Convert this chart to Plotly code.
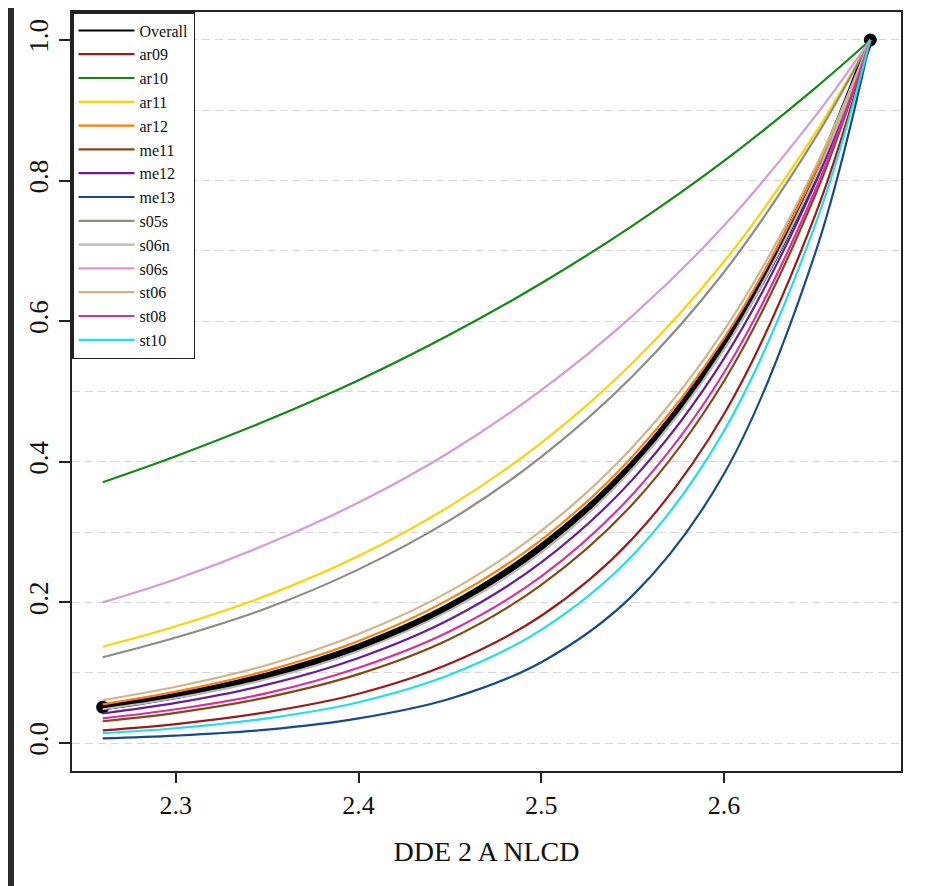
import plotly.graph_objects as go

# x positions where curves were read
x_vals = [2.26, 2.30, 2.35, 2.40, 2.45, 2.50, 2.55, 2.60, 2.65, 2.68]

overall = [0.051, 0.067, 0.096, 0.137, 0.195, 0.279, 0.397, 0.567, 0.808, 1.0]
ar09 = [0.018, 0.027, 0.044, 0.070, 0.113, 0.181, 0.291, 0.468, 0.752, 1.0]
ar10 = [0.371, 0.408, 0.459, 0.516, 0.581, 0.654, 0.736, 0.828, 0.932, 1.0]
ar11 = [0.137, 0.166, 0.210, 0.266, 0.337, 0.427, 0.541, 0.685, 0.868, 1.0]
ar12 = [0.055, 0.073, 0.103, 0.145, 0.205, 0.289, 0.408, 0.576, 0.813, 1.0]
me11 = [0.031, 0.043, 0.065, 0.098, 0.148, 0.225, 0.340, 0.515, 0.780, 1.0]
me12 = [0.042, 0.057, 0.083, 0.121, 0.176, 0.257, 0.375, 0.547, 0.797, 1.0]
me13 = [0.0065, 0.0105, 0.019, 0.035, 0.063, 0.115, 0.210, 0.383, 0.698, 1.0]
s05s = [0.122, 0.150, 0.192, 0.247, 0.317, 0.407, 0.522, 0.670, 0.861, 1.0]
s06n = [0.048, 0.064, 0.091, 0.131, 0.189, 0.271, 0.390, 0.560, 0.805, 1.0]
s06s = [0.200, 0.233, 0.283, 0.342, 0.414, 0.502, 0.608, 0.736, 0.892, 1.0]
st06 = [0.061, 0.080, 0.111, 0.155, 0.216, 0.302, 0.421, 0.587, 0.819, 1.0]
st08 = [0.035, 0.048, 0.071, 0.107, 0.159, 0.237, 0.354, 0.527, 0.787, 1.0]
st10 = [0.014, 0.021, 0.035, 0.058, 0.097, 0.161, 0.267, 0.444, 0.738, 1.0]

series_names = ["ar09", "ar10", "ar11", "ar12", "me11", "me12", "me13",
                "s05s", "s06n", "s06s", "st06", "st08", "st10"]
series_values = [ar09, ar10, ar11, ar12, me11, me12, me13,
                 s05s, s06n, s06s, st06, st08, st10]
series_colors = ["#a01818", "#108a10", "#ffd200", "#ff7f00", "#8b4513",
                 "#6a1b9a", "#174a8b", "#8c8c84", "#b8b8b8", "#d69bd6",
                 "#d2b48c", "#dd2e9e", "#1ee0e8"]

x_ticks = [2.3, 2.4, 2.5, 2.6]
y_ticks = [0.0, 0.2, 0.4, 0.6, 0.8, 1.0]
y_tick_labels = ["0.0", "0.2", "0.4", "0.6", "0.8", "1.0"]
x_title = "DDE 2 A NLCD"

FONT = "Liberation Serif, Times New Roman, serif"

fig = go.Figure()

# legend entry for Overall (thin line swatch)
fig.add_trace(go.Scatter(x=[None], y=[None], mode="lines", name="Overall",
                         line=dict(color="black", width=2)))
# thick Overall curve
fig.add_trace(go.Scatter(x=x_vals, y=overall, mode="lines", name="Overall",
                         showlegend=False,
                         line=dict(color="black", width=6.5, shape="spline")))
fig.add_trace(go.Scatter(x=[x_vals[0], x_vals[-1]], y=[overall[0], overall[-1]],
                         mode="markers", showlegend=False,
                         marker=dict(color="black", size=13)))

for name, vals, col in zip(series_names, series_values, series_colors):
    fig.add_trace(go.Scatter(x=x_vals, y=vals, mode="lines", name=name,
                             line=dict(color=col, width=2.2, shape="spline")))

# the page body has an 8px margin, so the figure is sized/offset accordingly
W, H = 939, 878
L, R, T, B = 64, 46, 4, 115
pw, ph = W - L - R, H - T - B

def px_x(p):
    return (p - L) / pw

def px_y(p):
    return (H - B - p) / ph

shapes = [
    dict(type="rect", xref="paper", yref="paper", x0=px_x(0), x1=px_x(6),
         y0=px_y(H), y1=px_y(0), fillcolor="#2a2a2a", line=dict(width=0), layer="below"),
]

fig.update_layout(
    width=W, height=H,
    margin=dict(l=L, r=R, t=T, b=B, pad=0),
    paper_bgcolor="white", plot_bgcolor="white",
    font=dict(family=FONT, color="#111111"),
    shapes=shapes,
    showlegend=True,
    legend=dict(x=0, y=1, xanchor="left", yanchor="top",
                bgcolor="white", bordercolor="#222222", borderwidth=1.5,
                font=dict(family=FONT, size=16, color="#111111"),
                tracegroupgap=0, itemwidth=56, entrywidth=80),
    xaxis=dict(range=[2.2432, 2.6968], tickvals=x_ticks,
               ticktext=[f"{v:.1f}" for v in x_ticks],
               ticks="outside", ticklen=10, tickwidth=1.5, tickcolor="#222222",
               showline=True, linecolor="#222222", linewidth=1.5, mirror=True,
               showgrid=False, zeroline=False,
               tickfont=dict(family=FONT, size=26, color="#111111"),
               title=dict(text=x_title, font=dict(family=FONT, size=28, color="#111111"),
                          standoff=22),
               automargin=False),
    yaxis=dict(range=[-0.0398, 1.0398], tickvals=y_ticks, ticktext=y_tick_labels,
               tickangle=-90,
               ticks="outside", ticklen=11, tickwidth=1.5, tickcolor="#222222",
               showline=True, linecolor="#222222", linewidth=1.5, mirror=True,
               showgrid=True, gridcolor="#d6d6d6", gridwidth=1.2, griddash="8px,5px",
               minor=dict(dtick=0.1, tick0=0, showgrid=True, gridcolor="#d6d6d6",
                          gridwidth=1.2, griddash="8px,5px", ticks=""),
               zeroline=False,
               tickfont=dict(family=FONT, size=27, color="#111111"),
               automargin=False),
)

fig.write_html("out.html")
